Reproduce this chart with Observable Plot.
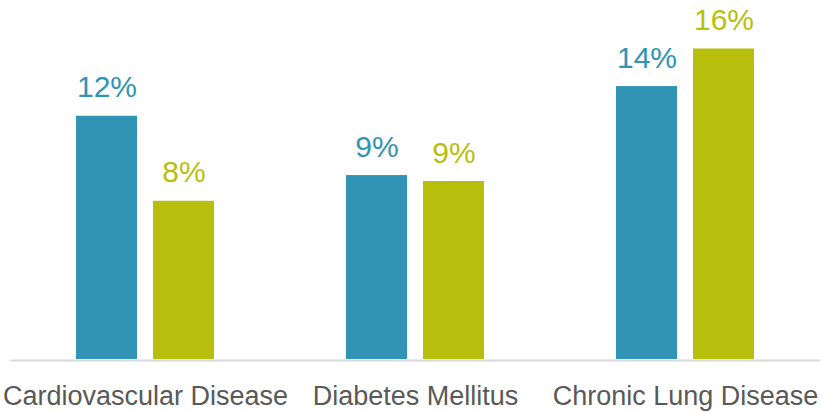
<!DOCTYPE html>
<html>
<head>
<meta charset="utf-8">
<script src="https://cdn.jsdelivr.net/npm/d3@7"></script>
<script src="https://cdn.jsdelivr.net/npm/@observablehq/plot@0.6"></script>
<style>
  html, body { margin: 0; padding: 0; background: #ffffff; }
</style>
</head>
<body>
<div id="chart"></div>
<script>
const categories = ["Cardiovascular Disease", "Diabetes Mellitus", "Chronic Lung Disease"];
const seriesNames = ["Series 1", "Series 2"];
const series1Values = [12.3, 9.3, 13.8];
const series2Values = [8.0, 9.0, 15.7];
const seriesColors = ["#3194b4", "#b7bf0c"];

const data = [];
categories.forEach((c, i) => {
  data.push({category: c, series: seriesNames[0], value: series1Values[i]});
  data.push({category: c, series: seriesNames[1], value: series2Values[i]});
});

const chart = Plot.plot({
  width: 822,
  height: 412,
  marginLeft: 10,
  marginRight: 2,
  marginTop: 3,
  marginBottom: 53,
  style: {fontFamily: "'Liberation Sans', Arial, sans-serif", background: "#ffffff"},
  fx: {domain: categories, padding: 0, label: null},
  x: {domain: seriesNames, paddingInner: 0.208, paddingOuter: 0.857, axis: null},
  y: {domain: [0, 18], axis: null},
  color: {domain: seriesNames, range: seriesColors},
  marks: [
    Plot.barY(data, {fx: "category", x: "series", y: "value", fill: "series"}),
    Plot.ruleY([0], {stroke: "#d9d9d9", strokeWidth: 2, dy: 1}),
    Plot.text(data, {
      fx: "category", x: "series", y: "value",
      text: d => Math.round(d.value) + "%",
      fill: "series", lineAnchor: "bottom", dy: -19, fontSize: 30
    }),
    Plot.axisFx({anchor: "bottom", tickSize: 0, tickPadding: 26, fontSize: 27, label: null, color: "#595959"})
  ]
});
document.getElementById("chart").appendChild(chart);
</script>
</body>
</html>
